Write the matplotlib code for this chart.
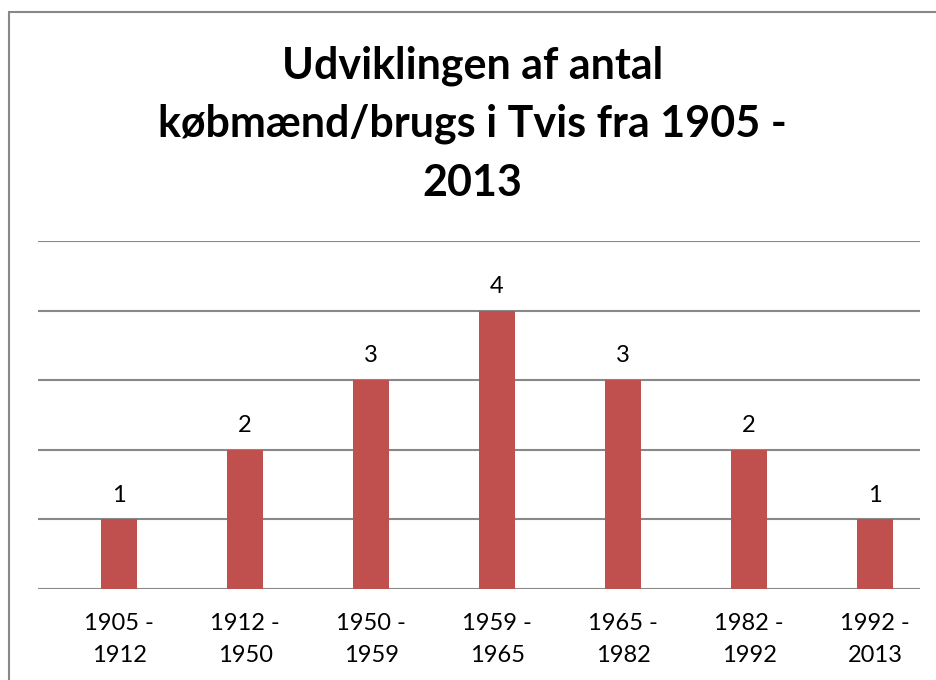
import matplotlib
matplotlib.use("Agg")
import matplotlib.pyplot as plt
from matplotlib.patches import Rectangle

categories = ["1905 -\n1912", "1912 -\n1950", "1950 -\n1959", "1959 -\n1965",
              "1965 -\n1982", "1982 -\n1992", "1992 -\n2013"]
values = [1, 2, 3, 4, 3, 2, 1]
title = "Udviklingen af antal\nkøbmænd/brugs i Tvis fra 1905 -\n2013"

W, H = 936, 680
fig = plt.figure(figsize=(W / 100, H / 100), dpi=100)
fig.patch.set_facecolor("white")

# outer border
fig.patches.append(Rectangle((8.5 / W, -0.05), 1.2, 1 - 11.5 / H + 0.05,
                             transform=fig.transFigure, fill=False,
                             edgecolor="#888888", linewidth=1.5))

left, right = 38, 920
top, bottom = 241, 589
ax = fig.add_axes([left / W, 1 - bottom / H, (right - left) / W, (bottom - top) / H])
x = list(range(len(values)))
ax.bar(x, values, width=0.286, color="#C0504D", zorder=3)
ax.set_ylim(0, 5)
ax.set_xlim(-0.643, 6.357)
ax.set_yticks(range(0, 6))
ax.yaxis.grid(True, color="#888888", linewidth=1.5, zorder=0)
ax.tick_params(axis="y", left=False, labelleft=False)
ax.tick_params(axis="x", bottom=False, pad=14)
ax.set_xticks(x)
ax.set_xticklabels(categories, fontsize=17, family="Lato", linespacing=1.65)
for s in ax.spines.values():
    s.set_visible(False)
for xi, v in zip(x, values):
    ax.annotate(str(v), (xi, v), xytext=(0, 10), textcoords="offset points",
                ha="center", va="bottom", fontsize=17, family="Lato")

fig.text(0.5 * (8.5 + W) / W, 1 - 124 / H, title, ha="center", va="center",
         fontsize=31, fontweight="bold", family="Lato", linespacing=1.55)

fig.savefig("out.png", dpi=100)
